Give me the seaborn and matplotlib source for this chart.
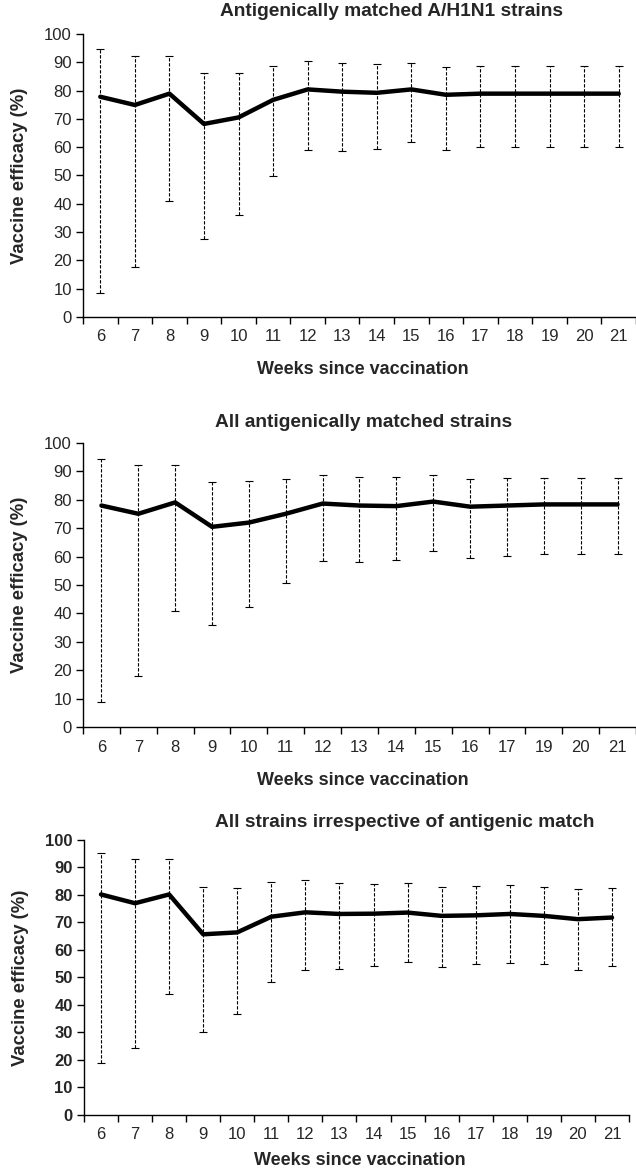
import numpy as np
import pandas as pd
import seaborn as sns
import matplotlib.pyplot as plt

# Dados (eficácia e intervalos de confiança)
semanas_1 = ['6', '7', '8', '9', '10', '11', '12', '13', '14', '15', '16', '17', '18', '19', '20', '21']
eficacia_1 = [77.8, 74.9, 78.9, 68.2, 70.5, 76.7, 80.4, 79.6, 79.2, 80.4, 78.5, 78.9, 78.9, 78.9, 78.9, 78.9]
superior_1 = [94.6, 92.3, 92.3, 86.1, 86.3, 88.7, 90.6, 89.9, 89.3, 89.9, 88.4, 88.7, 88.7, 88.7, 88.7, 88.7]
inferior_1 = [8.6, 17.5, 40.9, 27.4, 36.2, 49.9, 59.0, 58.7, 59.3, 61.7, 59.0, 59.9, 59.9, 59.9, 59.9, 59.9]

semanas_2 = ['6', '7', '8', '9', '10', '11', '12', '13', '14', '15', '16', '17', '19', '20', '21']
eficacia_2 = [78.0, 75.1, 79.1, 70.5, 72.0, 75.1, 78.7, 78.0, 77.8, 79.4, 77.6, 78.0, 78.4, 78.4, 78.4]
superior_2 = [94.5, 92.4, 92.4, 86.2, 86.5, 87.3, 88.9, 88.2, 87.9, 88.8, 87.4, 87.8, 87.8, 87.8, 87.8]
inferior_2 = [8.8, 17.9, 40.9, 36.1, 42.1, 50.8, 58.5, 58.1, 58.8, 62.0, 59.5, 60.2, 60.9, 60.9, 60.9]

semanas_3 = ['6', '7', '8', '9', '10', '11', '12', '13', '14', '15', '16', '17', '18', '19', '20', '21']
eficacia_3 = [80.2, 77.0, 80.2, 65.7, 66.4, 72.1, 73.7, 73.1, 73.2, 73.6, 72.4, 72.6, 73.1, 72.4, 71.2, 71.8]
superior_3 = [95.4, 93.0, 93.0, 82.8, 82.4, 84.7, 85.3, 84.2, 84.1, 84.2, 83.0, 83.4, 83.6, 83.0, 82.1, 82.4]
inferior_3 = [18.8, 24.5, 44.0, 30.3, 36.8, 48.2, 52.7, 53.2, 54.3, 55.8, 53.8, 54.8, 55.4, 54.8, 52.8, 54.3]

titulos = ['Antigenically matched A/H1N1 strains',
           'All antigenically matched strains',
           'All strains irrespective of antigenic match']

sns.set_style('ticks')
plt.rcParams['font.family'] = ['Liberation Sans', 'DejaVu Sans']

fig = plt.figure(figsize=(6.36, 11.74), dpi=100)

# posições dos eixos (esquerda, base, largura, altura) em fração da figura
posicoes = [[0.1305, 0.7300, 0.8695, 0.2411],
            [0.1305, 0.3807, 0.8695, 0.2419],
            [0.1320, 0.0503, 0.8570, 0.2342]]
titulo_xy = [(0.557, 1.078), (0.508, 1.074), (0.589, 1.062)]
xlabel_off = [53, 53, 46]

paineis = [(semanas_1, eficacia_1, superior_1, inferior_1),
           (semanas_2, eficacia_2, superior_2, inferior_2),
           (semanas_3, eficacia_3, superior_3, inferior_3)]

for i, (semanas, ef, sup, inf) in enumerate(paineis):
    ax = fig.add_axes(posicoes[i])
    n = len(semanas)
    df = pd.DataFrame({'pos': np.arange(n), 'ef': ef, 'sup': sup, 'inf': inf})

    # barras de erro tracejadas
    eb = ax.errorbar(df['pos'], df['ef'], yerr=[df['ef'] - df['inf'], df['sup'] - df['ef']],
                     fmt='none', ecolor='black', elinewidth=0.8, capsize=3, capthick=0.8)
    eb[2][0].set_linestyle((0, (3, 1.5)))

    sns.lineplot(x='pos', y='ef', data=df, color='black', linewidth=3.2, ax=ax)

    ax.set_xlim(-0.5, n - 0.5)
    ax.set_ylim(0, 100)
    ax.set_yticks(range(0, 101, 10))
    ax.set_xticks(np.arange(n))
    ax.set_xticklabels(semanas, fontsize=12)
    ax.set_xticks(np.arange(n + 1) - 0.5, minor=True)
    ax.tick_params(axis='x', which='major', length=0, pad=9)
    ax.tick_params(axis='x', which='minor', length=5, width=1, color='black')
    ax.tick_params(axis='y', length=5, width=1, color='black', labelsize=12, pad=3)
    if i == 2:
        for lab in ax.get_yticklabels():
            lab.set_fontweight('bold')

    for s in ['top', 'right']:
        ax.spines[s].set_visible(False)
    for s in ['left', 'bottom']:
        ax.spines[s].set_color('black')
        ax.spines[s].set_linewidth(1)

    ax.set_xlabel('Weeks since vaccination', fontsize=13, fontweight='bold')
    ax.set_ylabel('Vaccine efficacy (%)', fontsize=13.3, fontweight='bold')
    ax.xaxis.set_label_coords(0.506, -xlabel_off[i] / (posicoes[i][3] * 1174))
    ax.yaxis.set_label_coords(-63 / (posicoes[i][2] * 636), 0.5)
    ax.xaxis.label.set_va('center')
    ax.yaxis.label.set_va('center')

    ax.text(titulo_xy[i][0], titulo_xy[i][1], titulos[i], transform=ax.transAxes,
            ha='center', va='center', fontsize=13.8, fontweight='bold')

plt.savefig('out.png', dpi=100)
